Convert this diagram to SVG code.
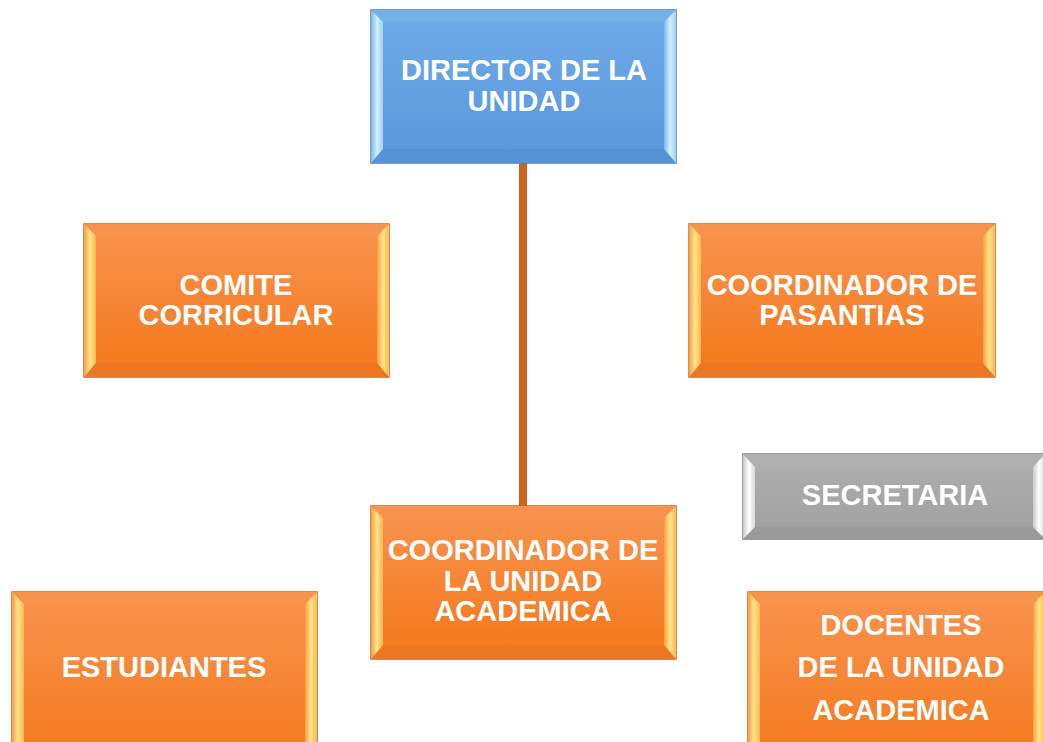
<svg xmlns="http://www.w3.org/2000/svg" width="1043" height="742" viewBox="0 0 1043 742">
<defs>
<linearGradient id="oC" x1="0" y1="0" x2="0" y2="1"><stop offset="0" stop-color="#f8914c"/><stop offset="1" stop-color="#f47a1e"/></linearGradient>
<linearGradient id="oS" x1="0" y1="0" x2="1" y2="0"><stop offset="0" stop-color="#f5a040"/><stop offset="0.5" stop-color="#ffe48c"/><stop offset="1" stop-color="#f9b850"/></linearGradient>
<linearGradient id="bC" x1="0" y1="0" x2="0" y2="1"><stop offset="0" stop-color="#6eaae8"/><stop offset="1" stop-color="#5b98dc"/></linearGradient>
<linearGradient id="bS" x1="0" y1="0" x2="1" y2="0"><stop offset="0" stop-color="#7ab8ea"/><stop offset="0.5" stop-color="#d2f0fc"/><stop offset="1" stop-color="#9ccff2"/></linearGradient>
<linearGradient id="gC" x1="0" y1="0" x2="0" y2="1"><stop offset="0" stop-color="#adadad"/><stop offset="1" stop-color="#a2a2a2"/></linearGradient>
<linearGradient id="gS" x1="0" y1="0" x2="1" y2="0"><stop offset="0" stop-color="#c8c8c8"/><stop offset="0.5" stop-color="#ffffff"/><stop offset="1" stop-color="#d8d8d8"/></linearGradient>
</defs>
<style>
.ob{fill:#f07a28;stroke:#c8662a;stroke-width:1.5}
.oc{fill:url(#oC)}
.ot{fill:#f7934e}
.obt{fill:#ec7622}
.os{fill:url(#oS)}
.bb{fill:#5e9ade;stroke:#4a7eb8;stroke-width:1.5}
.bc{fill:url(#bC)}
.bt{fill:#74b0ea}
.bbt{fill:#5892d6}
.bs{fill:url(#bS)}
.gb{fill:#a0a0a0;stroke:#7a7a7a;stroke-width:1.5}
.gc{fill:url(#gC)}
.gt{fill:#b0b0b0}
.gbt{fill:#9a9a9a}
.gs{fill:url(#gS)}
text{font-family:"Liberation Sans",Arial,sans-serif;font-weight:bold;font-size:29px;fill:#ffffff;text-anchor:middle}
.conn{stroke:#d0621a;stroke-width:8;fill:none}
</style>
<g id="connectors">
<line class="conn" x1="523" y1="163" x2="523" y2="506"/>
</g>
<g id="director">
<rect class="bb" x="371" y="10" width="305" height="153"/>
<path class="bt" d="M371,10 H676 L664,22 H383 Z"/>
<path class="bbt" d="M371,163 H676 L664,149 H383 Z"/>
<path class="bs" d="M371,10 L383,22 V149 L371,163 Z"/>
<path class="bs" d="M676,10 L664,22 V149 L676,163 Z"/>
<rect class="bc" x="383" y="22" width="281" height="127"/>
<text x="524" y="80">DIRECTOR DE LA</text>
<text x="524" y="111">UNIDAD</text>
</g>
<g id="comite">
<rect class="ob" x="84" y="224" width="305" height="153"/>
<path class="ot" d="M84,224 H389 L377,236 H96 Z"/>
<path class="obt" d="M84,377 H389 L377,363 H96 Z"/>
<path class="os" d="M84,224 L96,236 V363 L84,377 Z"/>
<path class="os" d="M389,224 L377,236 V363 L389,377 Z"/>
<rect class="oc" x="96" y="236" width="281" height="127"/>
<text x="236" y="295">COMITE</text>
<text x="236" y="325">CORRICULAR</text>
</g>
<g id="pasantias">
<rect class="ob" x="689" y="224" width="306" height="153"/>
<path class="ot" d="M689,224 H995 L983,236 H701 Z"/>
<path class="obt" d="M689,377 H995 L983,363 H701 Z"/>
<path class="os" d="M689,224 L701,236 V363 L689,377 Z"/>
<path class="os" d="M995,224 L983,236 V363 L995,377 Z"/>
<rect class="oc" x="701" y="236" width="282" height="127"/>
<text x="842" y="295">COORDINADOR DE</text>
<text x="842" y="325">PASANTIAS</text>
</g>
<g id="secretaria">
<rect class="gb" x="743" y="454" width="302" height="85"/>
<path class="gt" d="M743,454 H1045 L1033,467 H755 Z"/>
<path class="gbt" d="M743,539 H1045 L1033,527 H755 Z"/>
<path class="gs" d="M743,454 L755,467 V527 L743,539 Z"/>
<path class="gs" d="M1045,454 L1033,467 V527 L1045,539 Z"/>
<rect class="gc" x="755" y="467" width="278" height="60"/>
<text x="895" y="505">SECRETARIA</text>
</g>
<g id="coordinador-ua">
<rect class="ob" x="371" y="506" width="305" height="153"/>
<path class="ot" d="M371,506 H676 L664,518 H383 Z"/>
<path class="obt" d="M371,659 H676 L664,645 H383 Z"/>
<path class="os" d="M371,506 L383,518 V645 L371,659 Z"/>
<path class="os" d="M676,506 L664,518 V645 L676,659 Z"/>
<rect class="oc" x="383" y="518" width="281" height="127"/>
<text x="523" y="560">COORDINADOR DE</text>
<text x="523" y="591">LA UNIDAD</text>
<text x="523" y="621">ACADEMICA</text>
</g>
<g id="estudiantes">
<rect class="ob" x="12" y="592" width="305" height="165"/>
<path class="ot" d="M12,592 H317 L305,604 H24 Z"/>
<path class="os" d="M12,592 L24,604 V757 L12,757 Z"/>
<path class="os" d="M317,592 L305,604 V757 L317,757 Z"/>
<rect class="oc" x="24" y="604" width="281" height="153"/>
<text x="164" y="677">ESTUDIANTES</text>
</g>
<g id="docentes">
<rect class="ob" x="748" y="592" width="297" height="165"/>
<path class="ot" d="M748,592 H1045 L1033,604 H760 Z"/>
<path class="os" d="M748,592 L760,604 V757 L748,757 Z"/>
<path class="os" d="M1045,592 L1033,604 V757 L1045,757 Z"/>
<rect class="oc" x="760" y="604" width="273" height="153"/>
<text x="901" y="635">DOCENTES</text>
<text x="901" y="677">DE LA UNIDAD</text>
<text x="901" y="720">ACADEMICA</text>
</g>
</svg>
